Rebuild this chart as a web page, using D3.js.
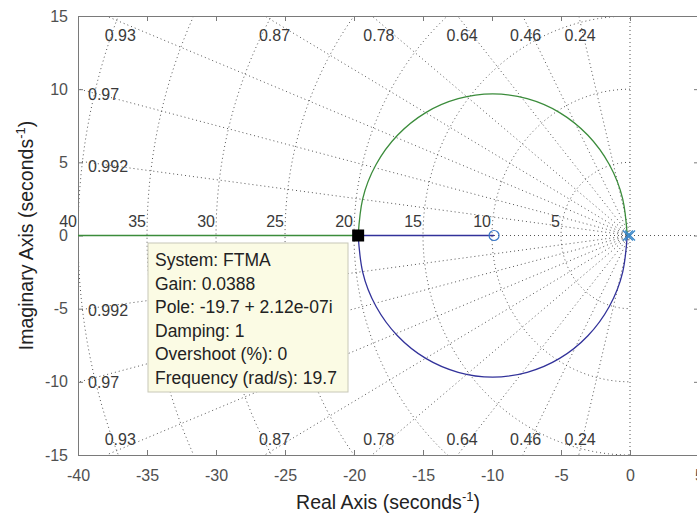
<!DOCTYPE html>
<html>
<head>
<meta charset="utf-8">
<script src="https://cdn.jsdelivr.net/npm/d3@7"></script>
<style>
  body { margin: 0; background: #fff; }
  text { font-family: "Liberation Sans", Arial, sans-serif; }
</style>
</head>
<body>
<div id="chart"></div>
<script>
// Axis ticks
const xTicks = [-40, -35, -30, -25, -20, -15, -10, -5, 0, 5];
const yTicks = [-15, -10, -5, 0, 5, 10, 15];

// sgrid values (damping ratio rays and natural frequency circles)
const zetaVals = [0.24, 0.46, 0.64, 0.78, 0.87, 0.93, 0.97, 0.992];
const wnVals = [5, 10, 15, 20, 25, 30, 35, 40];

// Root locus branches (real, imag)
const upperArc = [[-0.2, 0], [-0.53, 2.5], [-1.5, 4.85], [-3.05, 6.85], [-5.1, 8.4], [-7.45, 9.35],
  [-9.95, 9.68], [-12.45, 9.35], [-14.8, 8.4], [-16.85, 6.85], [-18.4, 4.85], [-19.37, 2.5], [-19.7, 0]];
const lowerArc = [[-0.2, 0], [-0.53, -2.5], [-1.5, -4.85], [-3.05, -6.85], [-5.1, -8.4], [-7.45, -9.35],
  [-9.95, -9.68], [-12.45, -9.35], [-14.8, -8.4], [-16.85, -6.85], [-18.4, -4.85], [-19.37, -2.5], [-19.7, 0]];
const greenReal = [[-19.7, 0], [-45, 0]];
const blueReal = [[-19.7, 0], [-9.85, 0]];
const poles = [[0, 0], [-0.15, 0]];
const zeros = [[-9.85, 0]];
const dataTip = [-19.7, 0];
const tipLines = ["System: FTMA", "Gain: 0.0388", "Pole: -19.7 + 2.12e-07i", "Damping: 1",
  "Overshoot (%): 0", "Frequency (rad/s): 19.7"];

const W = 697, H = 515;
const margin = {top: 16, right: -2, bottom: 60, left: 78};
const width = W - margin.left - margin.right,
      height = H - margin.top - margin.bottom;

const x = d3.scaleLinear().domain([-40, 5]).range([0, width]);
const y = d3.scaleLinear().domain([-15, 15]).range([height, 0]);

const svg = d3.select("#chart").append("svg")
    .attr("width", W).attr("height", H)
  .append("g")
    .attr("transform", `translate(${margin.left},${margin.top})`);

svg.append("clipPath").attr("id", "clip")
  .append("rect").attr("width", width).attr("height", height);

const grid = svg.append("g").attr("clip-path", "url(#clip)")
    .attr("fill", "none").attr("stroke", "#555").attr("stroke-width", 1)
    .attr("stroke-dasharray", "1,3");

const line = d3.line().x(d => x(d[0])).y(d => y(d[1]));

// zero-damping and real axis lines
grid.append("path").attr("d", line([[0, -15], [0, 15]]));
grid.append("path").attr("d", line([[-40, 0], [5, 0]]));

// damping rays
zetaVals.forEach(z => {
  const c = z, s = Math.sqrt(1 - z * z);
  const t = Math.min(40 / c, 15 / s);
  grid.append("path").attr("d", line([[0, 0], [-c * t, s * t]]));
  grid.append("path").attr("d", line([[0, 0], [-c * t, -s * t]]));
});

// natural frequency arcs
wnVals.forEach(w => {
  const pts = d3.range(90, 270.1, 1.5).map(a => [w * Math.cos(a * Math.PI / 180), w * Math.sin(a * Math.PI / 180)]);
  grid.append("path").attr("d", line(pts));
});

// grid labels
const lab = svg.append("g").attr("font-size", 16).attr("fill", "#3a3a3a");
zetaVals.forEach(z => {
  const c = z, s = Math.sqrt(1 - z * z);
  if (40 / c > 15 / s) {
    const xr = -14.6 * c / s;
    lab.append("text").attr("x", x(xr)).attr("y", y(15) + 25).attr("text-anchor", "middle").text(z);
    lab.append("text").attr("x", x(xr)).attr("y", y(-15) - 10).attr("text-anchor", "middle").text(z);
  } else {
    const yi = 40 * s / c;
    lab.append("text").attr("x", x(-40) + 10).attr("y", y(yi) + 11).text(z);
    lab.append("text").attr("x", x(-40) + 10).attr("y", y(-yi) + 6).text(z);
  }
});
wnVals.forEach(w => {
  lab.append("text").attr("x", x(-w) - 1).attr("y", y(0) - 9)
    .attr("text-anchor", "end").text(w);
});

// axes
const axisColor = "#7a7a7a";
function styleAxis(g, labels) {
  g.select(".domain").attr("stroke", axisColor);
  g.selectAll(".tick line").attr("stroke", axisColor);
  g.selectAll(".tick text").attr("fill", "#505050").attr("font-size", 16)
    .attr("font-family", "Liberation Sans, Arial, sans-serif")
    .attr("display", labels ? null : "none");
}
const fmt = d => String(d);
svg.append("g").attr("transform", `translate(0,${height})`)
  .call(d3.axisBottom(x).tickValues(xTicks).tickFormat(fmt).tickSizeInner(-5).tickSizeOuter(0).tickPadding(15))
  .call(g => styleAxis(g, true));
svg.append("g")
  .call(d3.axisTop(x).tickValues(xTicks).tickSizeInner(-5).tickSizeOuter(0))
  .call(g => styleAxis(g, false));
svg.append("g")
  .call(d3.axisLeft(y).tickValues(yTicks).tickFormat(fmt).tickSizeInner(-5).tickSizeOuter(0).tickPadding(10))
  .call(g => styleAxis(g, true));
svg.append("g").attr("transform", `translate(${width},0)`)
  .call(d3.axisRight(y).tickValues(yTicks).tickSizeInner(-5).tickSizeOuter(0))
  .call(g => styleAxis(g, false));

// root locus
const loc = svg.append("g").attr("clip-path", "url(#clip)").attr("fill", "none").attr("stroke-width", 1.3);
const curve = d3.line().x(d => x(d[0])).y(d => y(d[1])).curve(d3.curveNatural);
const green = "#3b8c3b", blue = "#32329a";
loc.append("path").attr("d", curve(upperArc)).attr("stroke", green);
loc.append("path").attr("d", line(greenReal)).attr("stroke", green);
loc.append("path").attr("d", curve(lowerArc)).attr("stroke", blue);
loc.append("path").attr("d", line(blueReal)).attr("stroke", blue);

// zeros and poles
svg.selectAll(".zero").data(zeros).enter().append("circle")
  .attr("cx", d => x(d[0])).attr("cy", d => y(d[1])).attr("r", 5)
  .attr("fill", "none").attr("stroke", "#3a78c8").attr("stroke-width", 1.2);
svg.selectAll(".pole").data(poles).enter().append("path")
  .attr("transform", d => `translate(${x(d[0])},${y(d[1])})`)
  .attr("d", "M-5,-5L5,5M-5,5L5,-5")
  .attr("stroke", "#3a88c8").attr("stroke-width", 1.3).attr("fill", "none");

// data tip
svg.append("rect")
  .attr("x", x(dataTip[0]) - 6).attr("y", y(dataTip[1]) - 6)
  .attr("width", 12).attr("height", 12).attr("fill", "#000");
const tip = svg.append("g").attr("transform", `translate(${148 - margin.left},${243 - margin.top})`);
tip.append("rect").attr("width", 200).attr("height", 149)
  .attr("fill", "#fbfbe4").attr("stroke", "#c8c8b8");
tip.selectAll("text").data(tipLines).enter().append("text")
  .attr("x", 7).attr("y", (d, i) => 23 + i * 23.6)
  .attr("font-size", 17.5).attr("fill", "#222").text(d => d);

// axis titles
const xt = svg.append("text").attr("x", 388 - margin.left).attr("y", 509 - margin.top)
  .attr("text-anchor", "middle").attr("font-size", 19.5).attr("fill", "#222");
xt.append("tspan").text("Real Axis (seconds");
xt.append("tspan").attr("dy", -8).attr("font-size", 13).text("-1");
xt.append("tspan").attr("dy", 8).text(")");

const yt = svg.append("text")
  .attr("transform", `translate(${33 - margin.left},${y(0)}) rotate(-90)`)
  .attr("text-anchor", "middle").attr("font-size", 19.5).attr("fill", "#222");
yt.append("tspan").text("Imaginary Axis (seconds");
yt.append("tspan").attr("dy", -8).attr("font-size", 13).text("-1");
yt.append("tspan").attr("dy", 8).text(")");
</script>
</body>
</html>
